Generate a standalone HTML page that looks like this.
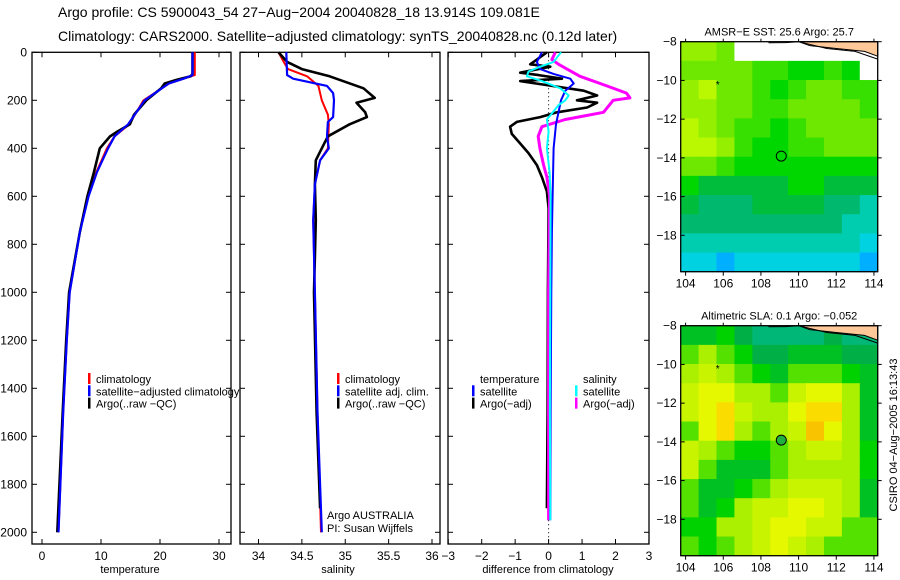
<!DOCTYPE html>
<html><head><meta charset="utf-8"><style>
body{margin:0;background:#fff;}
svg{display:block;font-family:"Liberation Sans",sans-serif;}
</style></head><body>
<svg id="fig" width="900" height="580" viewBox="0 0 900 580" xmlns="http://www.w3.org/2000/svg">
<text x="58" y="17" font-size="14">Argo profile: CS 5900043_54 27−Aug−2004 20040828_18 13.914S 109.081E</text>
<text x="58" y="41" font-size="14">Climatology: CARS2000. Satellite−adjusted climatology: synTS_20040828.nc (0.12d later)</text>
<g id="g"></g>
</svg>
<script>
// ---------- data ----------
const depthTick = [0,200,400,600,800,1000,1200,1400,1600,1800,2000];
const tTicks = [0,10,20,30];
const sTicks = [34,34.5,35,35.5,36];
const sTickLabels = ["34","34.5","35","35.5","36"];
const dTicks = [-3,-2,-1,0,1,2,3];
const dTickLabels = ["−3","−2","−1","0","1","2","3"];

const tClimD = [0,95,110,130,150,200,300,350,400,500,600,750,1000,1200,1500,2000];
const tClimV = [25.9,25.9,24.0,21.5,20.3,17.2,14.8,12.3,11.0,9.2,7.8,6.4,4.7,4.2,3.6,2.8];
const tSatD = [0,95,110,130,150,200,300,350,400,500,600,750,1000,1200,1500,2000];
const tSatV = [25.5,25.5,24.0,21.5,20.3,17.4,14.6,12.3,11.2,9.3,7.9,6.4,4.7,4.2,3.6,2.8];
const tArgoD = [0,90,100,115,130,150,200,260,300,330,351,400,500,600,750,1000,1200,1500,2000];
const tArgoV = [25.5,25.5,25.2,22.8,20.8,20.2,17.7,15.6,14.9,12.8,11.5,9.8,8.8,7.7,6.4,4.6,4.1,3.5,2.6];

const sClimD = [0,40,70,100,140,170,200,260,300,400,450,550,700,1000,1500,2000];
const sClimV = [34.23,34.29,34.34,34.56,34.69,34.71,34.73,34.80,34.81,34.80,34.71,34.65,34.63,34.65,34.68,34.72];
const sSatD = [0,95,110,140,170,200,270,290,350,400,450,550,700,1000,1500,2000];
const sSatV = [34.32,34.33,34.40,34.79,34.86,34.87,34.86,34.80,34.79,34.81,34.71,34.65,34.63,34.65,34.68,34.73];
const sArgoD = [0,40,70,100,150,190,210,250,270,300,350,400,450,550,700,1000,1500,1900];
const sArgoV = [34.23,34.33,34.50,34.82,35.21,35.34,35.13,35.23,35.25,35.05,34.80,34.73,34.66,34.65,34.66,34.64,34.67,34.71];

const dTArgoD = [0,30,50,60,85,95,110,120,140,160,180,200,210,230,250,270,290,310,340,380,420,470,520,580,650,1000,1500,1900];
const dTArgoV = [-0.05,-0.35,-0.55,0.05,-0.85,-0.3,0.4,-0.85,0.1,1.05,1.45,0.85,1.45,1.15,0.25,-0.25,-0.95,-1.15,-1.1,-0.85,-0.6,-0.35,-0.2,-0.05,0.0,-0.02,-0.03,-0.05];
const dTSatD = [0,40,70,90,110,130,160,200,300,400,600,750,1000,1500,1950];
const dTSatV = [-0.2,-0.35,-0.25,0.15,0.65,0.75,0.5,0.37,0.22,0.15,0.12,0.1,0.08,0.06,0.05];
const dSSatD = [0,40,60,80,100,120,150,180,200,220,280,330,400,500,600,1000,1500,1950];
const dSSatV = [0.37,0.15,-0.25,-0.6,-0.65,-0.2,0.35,0.6,0.5,0.3,-0.05,0.0,-0.05,0.03,0.06,0.05,0.04,0.05];
const dSArgoD = [0,30,50,70,100,140,170,190,200,250,280,310,350,400,470,520,600,1000,1500,1950];
const dSArgoV = [0.2,0.1,0.3,0.55,0.94,1.74,2.33,2.43,1.93,1.64,0.5,-0.2,-0.31,-0.26,-0.15,-0.05,0.03,0.0,0.0,0.0];

// map fields (rows north->south -8..-20, cols 104..114); null = no data
const sstGrid = [
 [8,8,7,null,null,null,null,null,null,null,null],
 [7,7,7,7,6,6,5,5,6,5,null],
 [8,9,7,7,6,5,6,7,7,6,6],
 [8,8,7,7,6,6,7,7,7,7,6],
 [9,8,7,6,6,5,6,7,7,7,7],
 [9,9,8,6,5,5,6,6,7,7,7],
 [7,7,6,5,5,5,5,5,5,5,5],
 [5,4,4,4,4,4,5,5,4,4,4],
 [4,3,3,3,4,4,4,4,3,3,2],
 [3,3,3,3,3,3,3,3,3,2,2],
 [2,2,2,2,2,2,2,2,2,2,1],
 [1,1,0,1,1,1,1,1,1,1,0]];
const slaGrid = [
 [3,3,4,2,1,1,1,1,2,1,1],
 [5,6,5,4,2,2,3,3,3,2,2],
 [6,7,6,5,4,3,5,5,5,4,3],
 [7,8,8,6,6,5,7,8,8,6,3],
 [7,8,9,7,6,6,8,9,9,6,3],
 [5,8,9,6,5,6,7,10,8,6,3],
 [7,6,5,4,4,5,6,7,7,6,4],
 [7,5,3,3,3,5,6,6,6,6,4],
 [5,3,3,4,5,6,7,7,7,6,3],
 [5,3,4,6,7,7,8,8,7,6,3],
 [4,4,6,6,7,8,8,7,7,5,5],
 [5,4,5,6,7,8,7,6,5,5,5]];
const latTicks = [-8,-10,-12,-14,-16,-18];
const lonTicks = [104,106,108,110,112,114];

// ---------- helpers ----------
const NS="http://www.w3.org/2000/svg";
const G=document.getElementById('g');
function el(tag,attrs,parent){const e=document.createElementNS(NS,tag);for(const k in attrs)e.setAttribute(k,attrs[k]);(parent||G).appendChild(e);return e;}
function txt(x,y,s,size,anchor,parent){const t=el('text',{x:x,y:y,'font-size':size,'text-anchor':anchor||'start'},parent);t.textContent=s;return t;}
const yD = d => 52.3 + d*0.24;
const TOP=52.3, BOT=544;
const xT = v => 42 + v*5.9;
const xS = v => 258.5 + (v-34)*86.75;
const xDf = v => 548.6 + v*33.45;

function frame(x0,x1,name){
  const r=el('rect',{x:x0,y:TOP,width:x1-x0,height:BOT-TOP,fill:'none',stroke:'#000','stroke-width':1.3});
  
  
  depthTick.forEach(d=>{el('line',{x1:x0,x2:x0+5,y1:yD(d),y2:yD(d),stroke:'#000'});el('line',{x1:x1,x2:x1-5,y1:yD(d),y2:yD(d),stroke:'#000'});});
}
function xticks(vals,labels,fx,name){
  const g=el('g',{});
  
  
  vals.forEach((v,i)=>{const x=fx(v);el('line',{x1:x,x2:x,y1:TOP,y2:TOP+5,stroke:'#000'},g);el('line',{x1:x,x2:x,y1:BOT,y2:BOT-5,stroke:'#000'},g);txt(x,560,labels[i],12,'middle',g);});
}
function line(D,V,fx,color,w,name){
  const p=D.map((d,i)=>fx(V[i]).toFixed(1)+','+yD(d).toFixed(1)).join(' ');
  const e=el('polyline',{points:p,fill:'none',stroke:color,'stroke-width':w,'stroke-linejoin':'round'});
  
  
}
function legend(bx,y0,items,name){
  const g=el('g',{});
  
  
  items.forEach((it,i)=>{const y=y0+i*12.3;if(it[1])el('rect',{x:bx,y:y-10,width:2.5,height:11,fill:it[1]},g);txt(bx+8,y,it[0],11,'start',g);});
}

// ---------- panel 1 ----------
frame(32,231,'temperature-panel');
const yl=el('g',{});


depthTick.forEach(d=>txt(27,yD(d)+4,String(d),12,'end',yl));
xticks(tTicks,tTicks.map(String),xT,'temperature-x-axis');
txt(130,573,'temperature',11,'middle');
line(tClimD,tClimV,xT,'#f00',2,'temperature-climatology-line');
line(tArgoD,tArgoV,xT,'#000',2.6,'temperature-argo-line');
line(tSatD,tSatV,xT,'#00f',2.2,'temperature-satellite-line');
legend(88,383,[['climatology','#f00'],['satellite−adjusted climatology','#00f'],['Argo(..raw −QC)','#000']],'temperature-legend');

// ---------- panel 2 ----------
frame(240,440,'salinity-panel');
xticks(sTicks,sTickLabels,xS,'salinity-x-axis');
txt(338,573,'salinity',11,'middle');
line(sClimD,sClimV,xS,'#f00',2,'salinity-climatology-line');
line(sArgoD,sArgoV,xS,'#000',2.6,'salinity-argo-line');
line(sSatD,sSatV,xS,'#00f',2.2,'salinity-satellite-line');
legend(337,383,[['climatology','#f00'],['satellite adj. clim.','#00f'],['Argo(..raw −QC)','#000']],'salinity-legend');
const cr=el('g',{});


txt(327,519,'Argo AUSTRALIA',11,'start',cr);
txt(327,532,'PI: Susan Wijffels',11,'start',cr);

// ---------- panel 3 ----------
frame(448,649,'difference-panel');
xticks(dTicks,dTickLabels,xDf,'difference-x-axis');
txt(548,573,'difference from climatology',11,'middle');
el('line',{x1:xDf(0),x2:xDf(0),y1:TOP,y2:BOT,stroke:'#000','stroke-dasharray':'1,3'});
line(dTArgoD,dTArgoV,xDf,'#000',2.6,'temperature-argo-diff-line');
line(dSArgoD,dSArgoV,xDf,'#f0f',3,'salinity-argo-diff-line');
line(dTSatD,dTSatV,xDf,'#00f',2,'temperature-satellite-diff-line');
line(dSSatD,dSSatV,xDf,'#0ff',2,'salinity-satellite-diff-line');
legend(472,383,[['temperature',null],['satellite','#00f'],['Argo(−adj)','#000']],'temperature-diff-legend');
legend(575,383,[['salinity',null],['satellite','#0ff'],['Argo(−adj)','#f0f']],'salinity-diff-legend');

// ---------- maps ----------
function lerpStops(stops,v){
  for(let i=0;i<stops.length-1;i++){const a=stops[i],b=stops[i+1];if(v<=b[0]){const t=(v-a[0])/(b[0]-a[0]);return 'rgb('+[1,2,3].map(k=>Math.round(a[k]+(b[k]-a[k])*t)).join(',')+')';}}
  const s=stops[stops.length-1];return 'rgb('+s[1]+','+s[2]+','+s[3]+')';
}
const sstStops=[[0,0,175,255],[1,0,210,225],[2,0,205,175],[3,0,185,110],[4,0,190,60],[5,0,215,0],[7,110,232,0],[9,185,248,0],[10,205,250,0]];
const slaStops=[[0,0,190,170],[2,0,175,70],[4,0,210,0],[6,170,240,0],[8,230,248,0],[9,250,220,0],[10,250,195,0]];
const LON0=103.74, LON1=114.2, PX0=680.7, PX1=877.7;
const xL = lon => PX0 + (lon-LON0)*(PX1-PX0)/(LON1-LON0);
function drawMap(top,grid,stops,title,name){
  const bot=top+230;
  const yLat = lat => top + (-8-lat)*19.36;
  const g=el('g',{});
  
  
  const rows=grid.length, cols=grid[0].length;
  const cw=(PX1-PX0)/cols, ch=(bot-top)/rows;
  grid.forEach((row,r)=>row.forEach((v,c)=>{
    const cell=el('rect',{x:PX0+c*cw,y:top+r*ch,width:cw+0.5,height:ch+0.5,fill:v===null?'#fff':lerpStops(stops,v)},g);
    
    
  }));
  // land
  el('polygon',{points:[xL(110),top,PX1,top,PX1,yLat(-8.75),xL(113.5),yLat(-8.5),xL(112),yLat(-8.35),xL(110.6),yLat(-8.2)].join(' '),fill:'#fec898',stroke:'#000','stroke-width':1},g);
  el('polyline',{points:[xL(108.4),top+1,xL(109.3),yLat(-8.05),xL(110),yLat(-8.0),xL(111.5),yLat(-8.35),xL(113),yLat(-8.5),PX1,yLat(-8.9)].join(' '),fill:'none',stroke:'#000','stroke-width':1},g);
  el('rect',{x:PX0,y:top,width:PX1-PX0,height:bot-top,fill:'none',stroke:'#000','stroke-width':1.3},g);
  latTicks.forEach(l=>{const y=yLat(l);el('line',{x1:PX0,x2:PX0+4,y1:y,y2:y,stroke:'#000'},g);el('line',{x1:PX1,x2:PX1+4,y1:y,y2:y,stroke:'#000'},g);txt(PX0-4,y+4,'−'+(-l),12,'end',g);});
  lonTicks.forEach(l=>{const x=xL(l);el('line',{x1:x,x2:x,y1:bot,y2:bot+4,stroke:'#000'},g);el('line',{x1:x,x2:x,y1:top,y2:top-3,stroke:'#000'},g);txt(x,bot+16,String(l),12,'middle',g);});
  txt((PX0+PX1)/2,top-6,title,11,'middle',g);
  el('text',{x:xL(105.6),y:yLat(-10.4),'font-size':10},g).textContent='*';
  return yLat;
}
const yl1=drawMap(41.7,sstGrid,sstStops,'AMSR−E SST: 25.6 Argo: 25.7','sst-map');
const c1=el('circle',{cx:xL(109.08),cy:yl1(-13.91),r:5,fill:'none',stroke:'#000','stroke-width':1});


const yl2=drawMap(325.7,slaGrid,slaStops,'Altimetric SLA: 0.1 Argo: −0.052','sla-map');
const c2=el('circle',{cx:xL(109.08),cy:yl2(-13.91),r:5,fill:'#20b040',stroke:'#000','stroke-width':1});


const cs=el('text',{x:0,y:0,'font-size':11,'text-anchor':'middle',transform:'translate(897,435) rotate(-90)'});
cs.textContent='CSIRO 04−Aug−2005 16:13:43';


</script>
</body></html>
